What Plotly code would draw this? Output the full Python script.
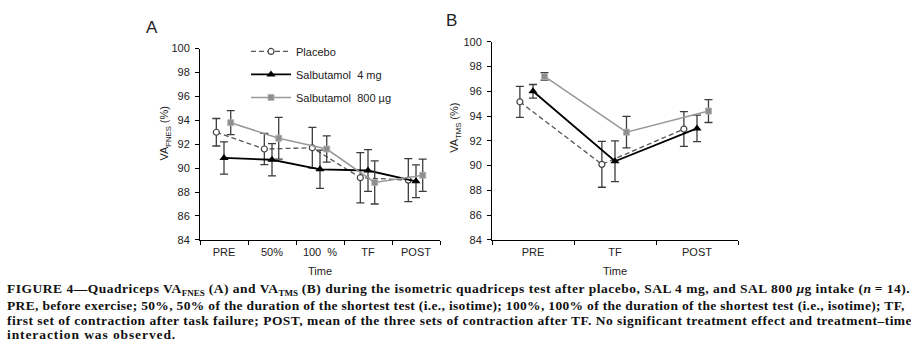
import plotly.graph_objects as go

# ---------------- data ----------------
cats_A = ["PRE", "50%", "100\u00a0\u00a0%", "TF", "POST"]
placebo_A = [93.0, 91.6, 91.7, 89.2, 89.0]
placebo_A_err = [1.15, 1.3, 1.7, 2.1, 1.8]
sal4_A = [90.85, 90.7, 89.9, 89.8, 88.9]
sal4_A_err = [1.35, 1.35, 1.6, 1.75, 1.37]
sal800_A = [93.8, 92.5, 91.6, 88.8, 89.4]
sal800_A_err = [1.0, 1.75, 1.1, 1.8, 1.35]

cats_B = ["PRE", "TF", "POST"]
placebo_B = [95.15, 90.1, 92.95]
placebo_B_err = [1.25, 1.85, 1.4]
sal4_B = [96.0, 90.35, 93.0]
sal4_B_err = [0.55, 1.65, 1.07]
sal800_B = [97.2, 92.7, 94.4]
sal800_B_err = [0.3, 1.27, 0.92]

series_names = ["Placebo", "Salbutamol\u00a0\u00a04 mg", "Salbutamol\u00a0\u00a0800 \u00b5g"]
y_ticks = [84, 86, 88, 90, 92, 94, 96, 98, 100]

# ---------------- styles ----------------
W, H = 911, 358
FONT = "Arial, Liberation Sans, sans-serif"
offsets = [-0.16, 0.0, 0.14]
styles = [
    dict(line=dict(color="#555555", width=1.3, dash="5px,3px"),
         marker=dict(symbol="circle", size=6, color="white", line=dict(color="#444444", width=1.2))),
    dict(line=dict(color="#000000", width=1.8),
         marker=dict(symbol="triangle-up", size=8, color="#000000")),
    dict(line=dict(color="#9a9a9a", width=1.6),
         marker=dict(symbol="square", size=6, color="#8e8e8e", line=dict(color="#b0b0b0", width=0.8))),
]
err_style = dict(type="data", color="#3c3c3c", thickness=1.3, width=4, visible=True)

fig = go.Figure()

def add_panel(cats, vals, errs, xa, ya, showlegend):
    for k, (v, e) in enumerate(zip(vals, errs)):
        xs = [i + offsets[k] for i in range(len(cats))]
        fig.add_trace(go.Scatter(
            x=xs, y=v, mode="lines+markers", name=series_names[k],
            error_y=dict(array=e, **err_style),
            line=styles[k]["line"], marker=styles[k]["marker"],
            xaxis=xa, yaxis=ya, showlegend=showlegend, legendgroup=f"g{k}",
        ))

add_panel(cats_A, [placebo_A, sal4_A, sal800_A], [placebo_A_err, sal4_A_err, sal800_A_err], "x", "y", True)
add_panel(cats_B, [placebo_B, sal4_B, sal800_B], [placebo_B_err, sal4_B_err, sal800_B_err], "x2", "y2", False)

def xaxis(cats, dom):
    return dict(domain=dom, range=[-0.5, len(cats) - 0.5], tickmode="array",
                tickvals=list(range(len(cats))), ticktext=cats, ticks="",
                ticklabelstandoff=2,
                showline=True, linecolor="black", linewidth=1, showgrid=False, zeroline=False,
                tickfont=dict(family=FONT, size=11, color="#222222"),
                minor=dict(tickmode="linear", tick0=-0.5, dtick=1, ticks="outside",
                           ticklen=4, tickcolor="black", tickwidth=1, showgrid=False),
                title=dict(text="Time", font=dict(family=FONT, size=11, color="#222222"), standoff=10),
                fixedrange=True)

def yaxis(dom, anchor):
    return dict(domain=dom, range=[84, 100], tickmode="array", tickvals=y_ticks,
                ticks="outside", ticklen=4, tickcolor="black", showline=True, linecolor="black",
                linewidth=1, showgrid=False, zeroline=False, anchor=anchor, ticklabelstandoff=3,
                tickfont=dict(family=FONT, size=11, color="#222222"), fixedrange=True)

fig.update_layout(
    width=W, height=H, margin=dict(l=0, r=0, t=0, b=0),
    paper_bgcolor="white", plot_bgcolor="white",
    xaxis=dict(**xaxis(cats_A, [200 / W, 440 / W]), anchor="y"),
    yaxis=yaxis([1 - 242 / H, 1 - 44 / H], "x"),
    xaxis2=dict(**xaxis(cats_B, [492 / W, 738 / W]), anchor="y2"),
    yaxis2=yaxis([1 - 242 / H, 1 - 37 / H], "x2"),
    legend=dict(x=246 / W, y=1 - 32 / H, xanchor="left", yanchor="top",
                font=dict(family=FONT, size=11, color="#222222"),
                bgcolor="rgba(0,0,0,0)", tracegroupgap=4, itemwidth=40),
    showlegend=True,
)

annots = [
    dict(text="A", x=152 / W, y=1 - 22 / H, font=dict(size=17)),
    dict(text="B", x=451 / W, y=1 - 15 / H, font=dict(size=17)),
    dict(text="VA<sub>FNES</sub> (%)", x=165 / W, y=1 - 132 / H, textangle=-90, font=dict(size=11)),
    dict(text="VA<sub>TMS</sub> (%)", x=455 / W, y=1 - 126 / H, textangle=-90, font=dict(size=11)),
]
for a in annots:
    fig.add_annotation(xref="paper", yref="paper", showarrow=False, xanchor="center", yanchor="middle",
                       text=a["text"], x=a["x"], y=a["y"], textangle=a.get("textangle", 0),
                       font=dict(family=FONT, color="#222222", **a["font"]))

def sp(t, ls):
    return f"<span style='letter-spacing:{ls}px'>{t}</span>"

L1 = 0.5
caption = [
    sp("FIGURE 4\u2014Quadriceps VA", L1) + "<sub><span style='font-size:9px'>FNES</span></sub>"
    + sp(" (A) and VA", L1) + "<sub><span style='font-size:9px'>TMS</span></sub>"
    + sp(" (B) during the isometric quadriceps test after placebo, SAL 4 mg, and SAL 800 ", L1)
    + "<i>\u00b5</i>" + sp("g intake (", L1) + "<i>n</i>" + sp(" = 14).", L1),
    sp("PRE, before exercise; 50%, 50% of the duration of the shortest test (i.e., isotime); 100%, 100% of the duration of the shortest test (i.e., isotime); TF,", 0.33),
    sp("first set of contraction after task failure; POST, mean of the three sets of contraction after TF. No significant treatment effect and treatment\u2013time", 0.48),
    sp("interaction was observed.", 0.9),
]
cap_y = [293.5, 310, 325, 340]
for txt, yy in zip(caption, cap_y):
    fig.add_annotation(xref="paper", yref="paper", showarrow=False, xanchor="left", yanchor="middle",
                       x=5 / W, y=1 - yy / H, text="<b>" + txt + "</b>",
                       font=dict(family="Liberation Serif, Times New Roman, serif", size=13.5, color="#111111"))

fig.write_html("out.html", config={"displayModeBar": False},
               post_script="document.body.style.margin='0';document.body.style.overflow='hidden';")
